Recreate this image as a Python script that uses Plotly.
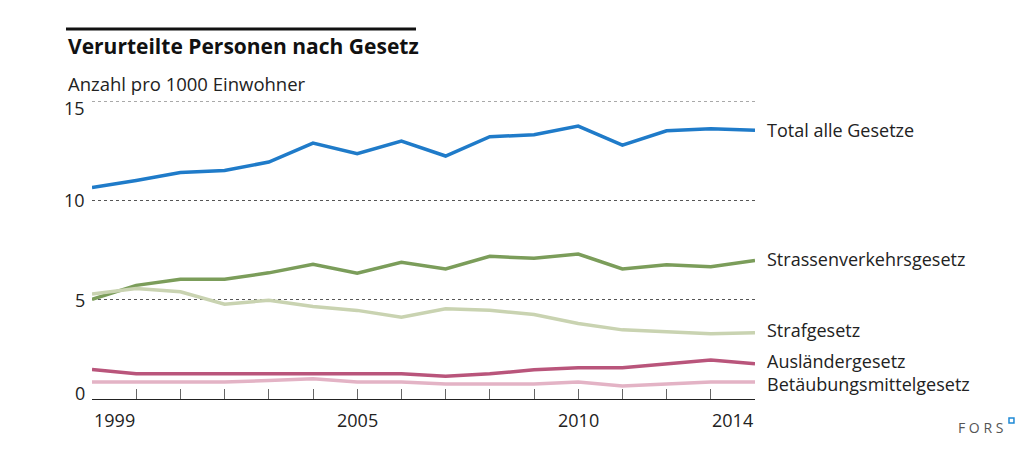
import plotly.graph_objects as go

years = list(range(1999, 2015))
total = [10.65, 11.0, 11.4, 11.5, 11.93, 12.88, 12.35, 12.98, 12.23, 13.2, 13.3, 13.74, 12.78, 13.5, 13.6, 13.53]
strassen = [5.02, 5.72, 6.03, 6.03, 6.35, 6.78, 6.33, 6.88, 6.55, 7.18, 7.08, 7.3, 6.55, 6.76, 6.66, 6.97]
straf = [5.28, 5.56, 5.4, 4.77, 4.97, 4.66, 4.46, 4.12, 4.54, 4.47, 4.25, 3.8, 3.48, 3.38, 3.28, 3.34]
auslaender = [1.48, 1.27, 1.27, 1.27, 1.27, 1.27, 1.27, 1.27, 1.15, 1.27, 1.47, 1.57, 1.57, 1.77, 1.96, 1.78]
betm = [0.85, 0.85, 0.85, 0.85, 0.93, 1.02, 0.85, 0.85, 0.75, 0.75, 0.75, 0.85, 0.65, 0.75, 0.85, 0.85]

series_names = ["Total alle Gesetze", "Strassenverkehrsgesetz", "Strafgesetz",
                "Ausländergesetz", "Betäubungsmittelgesetz"]
series_values = [total, strassen, straf, auslaender, betm]
series_colors = ["#1f7bc9", "#7b9d5a", "#c9d3b1", "#b9557b", "#e3b3c5"]
label_yshift = [0, 2, 3, 3, -2]

y_ticks = [0, 5, 10, 15]
y_label_shift = [6, 0, 0, -7]
x_tick_labels = [1999, 2005, 2010, 2014]

FONT = "Open Sans"
TXT = "#222222"

fig = go.Figure()
for name, vals, col, ys in zip(series_names, series_values, series_colors, label_yshift):
    fig.add_trace(go.Scatter(x=years, y=vals, mode="lines", name=name,
                             line=dict(color=col, width=3.5), cliponaxis=False,
                             hoverinfo="skip"))
    fig.add_annotation(x=years[-1], y=vals[-1], xref="x", yref="y", text=name,
                       xanchor="left", yanchor="middle", xshift=10, yshift=ys,
                       showarrow=False, font=dict(family=FONT, size=18, color=TXT))

for yr in x_tick_labels:
    anchor = "left" if yr == years[0] else ("right" if yr == years[-1] else "center")
    fig.add_annotation(x=yr, y=0, xref="x", yref="y", text=str(yr), showarrow=False,
                       xanchor=anchor, yanchor="top", yshift=-7,
                       font=dict(family=FONT, size=18, color=TXT))

for v, ys in zip(y_ticks, y_label_shift):
    fig.add_annotation(x=0, y=v, xref="paper", yref="y", text=str(v), showarrow=False,
                       xanchor="right", yanchor="middle", xshift=-5, yshift=ys,
                       font=dict(family=FONT, size=18, color=TXT))

# title, rule, subtitle
fig.add_shape(type="line", xref="paper", yref="paper", x0=-0.0392, x1=0.4887,
              y0=1.2416, y1=1.2416, line=dict(color="#111111", width=3))
fig.add_annotation(xref="paper", yref="paper", x=-0.0392, y=1.1846, xanchor="left",
                   yanchor="middle", showarrow=False,
                   text="<b>Verurteilte Personen nach Gesetz</b>",
                   font=dict(family=FONT, size=21, color="#111111"))
fig.add_annotation(xref="paper", yref="paper", x=-0.0392, y=1.0604, xanchor="left",
                   yanchor="middle", showarrow=False, text="Anzahl pro 1000 Einwohner",
                   font=dict(family=FONT, size=18.5, color=TXT))
# FORS logo
fig.add_annotation(xref="paper", yref="paper", x=1.377, y=-0.0973, xanchor="right",
                   yanchor="middle", showarrow=False, text="F O R S",
                   font=dict(family=FONT, size=14, color="#555555"))
fig.add_shape(type="rect", xref="paper", yref="paper", x0=1.3831, x1=1.3906,
              y0=-0.0805, y1=-0.0638, line=dict(color="#1f8ad6", width=1.5),
              fillcolor="white")

fig.update_layout(
    width=1035, height=455,
    margin=dict(l=92, r=280, t=101, b=56),
    paper_bgcolor="white", plot_bgcolor="white",
    showlegend=False,
    font=dict(family=FONT, size=18, color=TXT),
    xaxis=dict(range=[years[0], years[-1]], showgrid=False, zeroline=False,
               showline=True, linecolor="#222222", linewidth=1,
               tickmode="linear", tick0=years[0], dtick=1,
               ticks="inside", ticklen=10, tickcolor="#666666", tickwidth=1,
               showticklabels=False),
    yaxis=dict(range=[0, 15], tickvals=y_ticks, showgrid=True, griddash="dot",
               gridcolor="#555555", gridwidth=1, zeroline=False, showline=False,
               ticks="", showticklabels=False),
)
# dotted line at the top of the scale (plotly skips the grid line on the edge)
fig.add_shape(type="line", xref="paper", yref="y", x0=0, x1=1, y0=y_ticks[-1], y1=y_ticks[-1],
              line=dict(color="#555555", width=1, dash="dot"), layer="below")

fig.write_html("out.html", post_script="document.body.style.margin='0';",
               config={"displayModeBar": False})
